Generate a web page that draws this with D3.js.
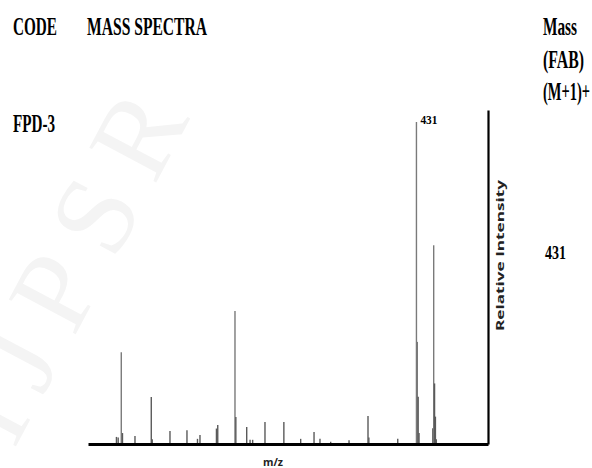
<!DOCTYPE html>
<html>
<head>
<meta charset="utf-8">
<style>
  body { margin: 0; background: #fff; }
  svg { display: block; }
</style>
</head>
<body>
<div id="chart"></div>
<script src="https://d3js.org/d3.v7.min.js"></script>
<script>
    // m/z and relative intensity of each peak
    const peakMz = [83, 85, 88.6, 90, 104.5, 123.4, 124.5, 145.1, 164.8, 177, 179.9,
                    199, 200.5, 220.5, 221.5, 234.1, 238, 241, 255.3, 277.2, 296.7,
                    312.2, 319.1, 331.5, 352.8, 374.8, 375.8, 409.3,
                    431, 432, 433, 434, 450, 451, 452, 453, 454];
    const peakInt = [2.2, 2.0, 28.5, 3.4, 2.5, 14.6, 1.5, 4.0, 4.3, 1.6, 2.8,
                     4.8, 5.9, 41.3, 8.4, 5.3, 1.3, 1.3, 6.8, 6.8, 1.6,
                     3.7, 1.6, 0.7, 1.2, 8.7, 2.0, 1.6,
                     100, 31.7, 14.7, 3.4, 4.9, 61.7, 18.8, 8.5, 1.5];

    const baseLabel = "431";
    const xTitle = "m/z";
    const yTitle = "Relative Intensity";

    const width = 592, height = 468;
    const svg = d3.select("#chart").append("svg")
        .attr("width", width)
        .attr("height", height);

    // faint journal watermark
    svg.append("text")
        .attr("transform", "translate(14,450) rotate(-62)")
        .attr("font-family", "Liberation Serif")
        .attr("font-size", 115)
        .attr("letter-spacing", 22)
        .attr("fill", "#f4f4f4")
        .text("IJPSR");

    const x = d3.scaleLinear().domain([50, 514]).range([88, 488]);
    const y = d3.scaleLinear().domain([0, 103.7]).range([444, 110]);

    // table headings
    const serif = "Liberation Serif";
    const heads = [
        { t: "CODE", x: 13, y: 35, len: 44 },
        { t: "MASS SPECTRA", x: 87, y: 35, len: 120 },
        { t: "FPD-3", x: 13, y: 132, len: 42 },
        { t: "Mass", x: 543, y: 35, len: 34 },
        { t: "(FAB)", x: 543, y: 68, len: 41 },
        { t: "(M+1)+", x: 543, y: 100, len: 47 }
    ];
    svg.append("g")
        .selectAll("text")
        .data(heads)
        .join("text")
        .attr("x", d => d.x)
        .attr("y", d => d.y)
        .attr("font-family", serif)
        .attr("font-weight", "bold")
        .attr("font-size", 26)
        .attr("textLength", d => d.len)
        .attr("lengthAdjust", "spacingAndGlyphs")
        .attr("fill", "#000")
        .text(d => d.t);

    svg.append("text")
        .attr("x", 545)
        .attr("y", 259)
        .attr("font-family", serif)
        .attr("font-weight", "bold")
        .attr("font-size", 18)
        .attr("textLength", 21)
        .attr("lengthAdjust", "spacingAndGlyphs")
        .text(baseLabel);

    // peaks
    const peaks = peakMz.map((m, i) => ({ mz: m, v: peakInt[i] }));
    svg.append("g")
        .selectAll("line")
        .data(peaks)
        .join("line")
        .attr("x1", d => x(d.mz))
        .attr("x2", d => x(d.mz))
        .attr("y1", y(0))
        .attr("y2", d => y(d.v))
        .attr("stroke", d => d.v > 20 ? "#7a7a7a" : "#5a5a5a")
        .attr("stroke-width", 1.4);

    // base peak label
    svg.append("text")
        .attr("x", x(431) + 4)
        .attr("y", 124)
        .attr("font-family", serif)
        .attr("font-weight", "bold")
        .attr("font-size", 13)
        .attr("textLength", 17)
        .attr("lengthAdjust", "spacingAndGlyphs")
        .text(baseLabel);

    // axes
    const xAxis = svg.append("g")
        .attr("transform", `translate(0,${y(0)})`)
        .call(d3.axisBottom(x).tickValues([]).tickSizeOuter(0));
    xAxis.select(".domain").attr("stroke", "#000").attr("stroke-width", 3);

    const yAxis = svg.append("g")
        .attr("transform", `translate(${x(514)},0)`)
        .call(d3.axisRight(y).tickValues([]).tickSizeOuter(0));
    yAxis.select(".domain").attr("stroke", "#000").attr("stroke-width", 2.2);

    svg.append("text")
        .attr("x", 273)
        .attr("y", 466)
        .attr("text-anchor", "middle")
        .attr("font-family", "Open Sans")
        .attr("font-weight", "bold")
        .attr("font-size", 10)
        .attr("textLength", 20)
        .attr("lengthAdjust", "spacingAndGlyphs")
        .attr("fill", "#222")
        .text(xTitle);

    svg.append("text")
        .attr("transform", "translate(504,255.5) rotate(-90)")
        .attr("text-anchor", "middle")
        .attr("font-family", "Open Sans")
        .attr("font-weight", "bold")
        .attr("font-size", 10)
        .attr("textLength", 151)
        .attr("lengthAdjust", "spacingAndGlyphs")
        .attr("fill", "#222")
        .text(yTitle);
</script>
</body>
</html>
